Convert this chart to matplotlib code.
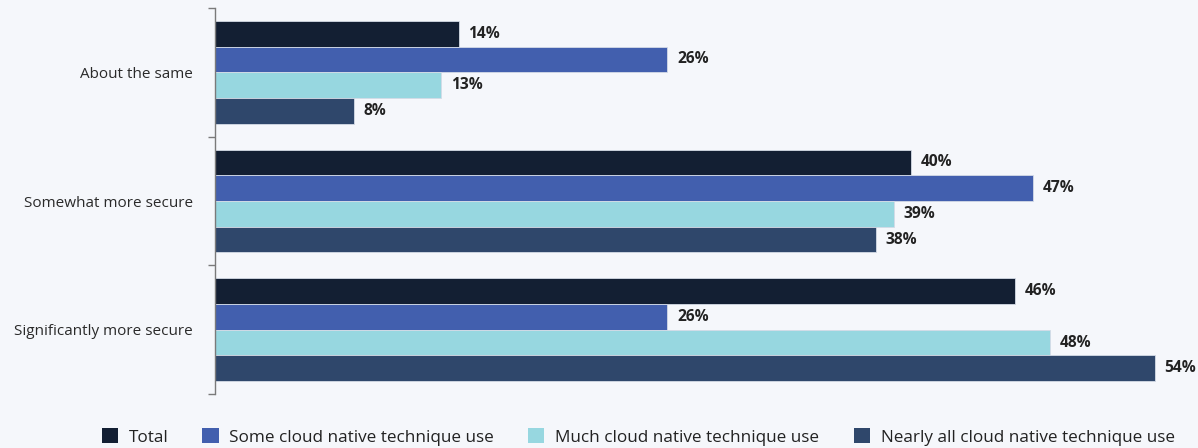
import matplotlib
matplotlib.use("Agg")
import matplotlib.pyplot as plt
from matplotlib.patches import Patch
import numpy as np

plt.rcParams['font.family'] = ['Open Sans', 'DejaVu Sans']

categories = ["About the same", "Somewhat more secure", "Significantly more secure"]
series_names = ["Total", "Some cloud native technique use",
                "Much cloud native technique use", "Nearly all cloud native technique use"]
total = [14, 40, 46]
some_use = [26, 47, 26]
much_use = [13, 39, 48]
nearly_all_use = [8, 38, 54]
series_values = [total, some_use, much_use, nearly_all_use]
colors = ["#131f33", "#425fae", "#97d7e0", "#2f476b"]

bg = "#f5f7fb"
fig = plt.figure(figsize=(11.98, 4.48), dpi=100, facecolor=bg)
ax = fig.add_axes([215 / 1198, 54 / 448, 983 / 1198, 386 / 448], facecolor=bg)

y = np.arange(len(categories))
bar_h = 0.2
for i, (vals, col) in enumerate(zip(series_values, colors)):
    pos = y - 0.4 + bar_h * (i + 0.5)
    ax.barh(pos, vals, height=bar_h, color=col, edgecolor="#d4dbe6", linewidth=0.6)
    for p, v in zip(pos, vals):
        ax.annotate(f"{v}%", xy=(v, p), xytext=(7, 0), textcoords="offset points",
                    ha="left", va="center", fontsize=11.2, fontweight="bold",
                    color="#222222")

ax.set_xlim(0, 56.5)
ax.set_ylim(2.5, -0.5)

for s in ["top", "right", "bottom"]:
    ax.spines[s].set_visible(False)
ax.spines["left"].set_color("#7a7a7a")
ax.spines["left"].set_linewidth(1.0)
ax.xaxis.set_visible(False)

ax.set_yticks(y)
ax.set_yticklabels(categories, fontsize=11, color="#2a2a2a")
ax.tick_params(axis="y", which="major", length=0, pad=16)
ax.set_yticks([-0.5, 0.5, 1.5, 2.5], minor=True)
ax.tick_params(axis="y", which="minor", length=5, width=1.0, color="#7a7a7a")

handles = [Patch(facecolor=c, edgecolor="none") for c in colors]
fig.legend(handles, series_names, loc="center", bbox_to_anchor=(0.5326, 1 - 437 / 448),
           ncol=4, frameon=False, fontsize=12.3, handlelength=0.94, handleheight=0.94,
           handletextpad=0.64, columnspacing=2.0, labelcolor="#222222")

fig.savefig("out.png", dpi=100, facecolor=bg)
